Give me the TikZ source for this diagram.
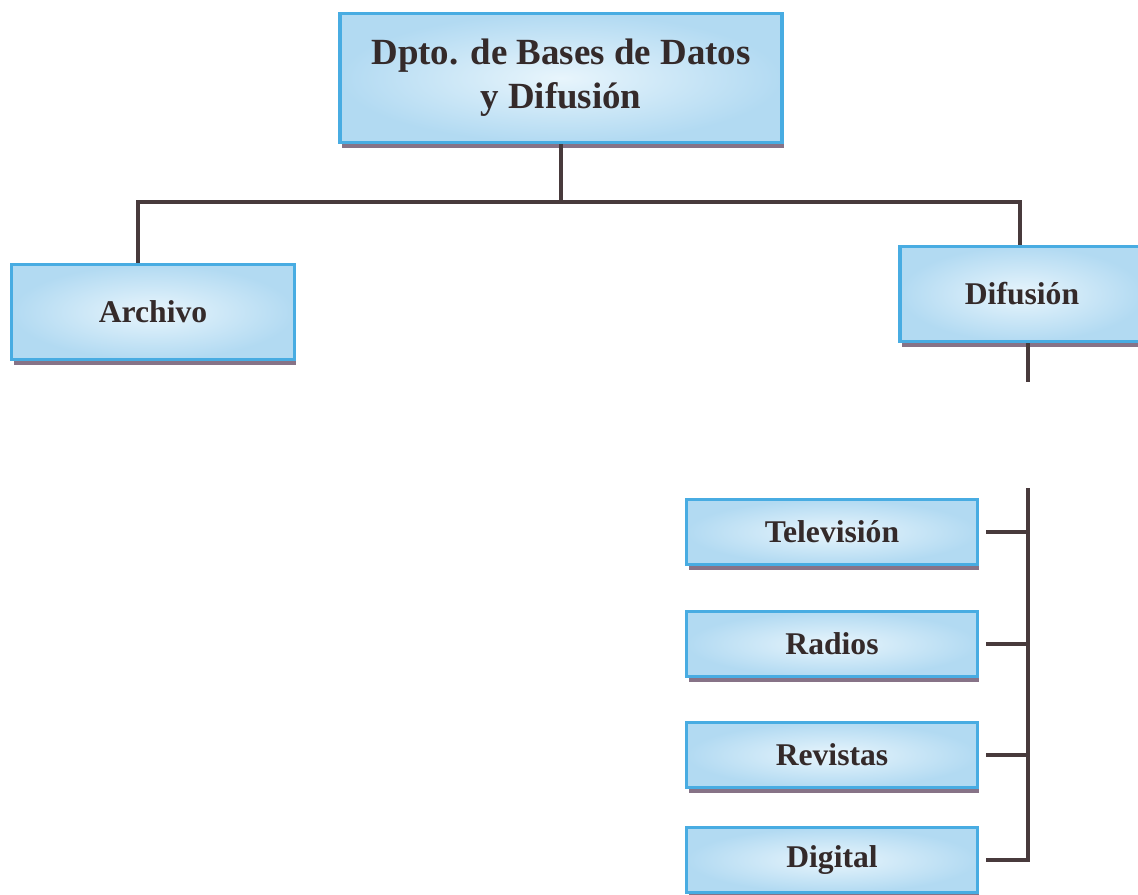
\documentclass[tikz,border=0pt]{standalone}
\usepackage{fontspec}
\setmainfont{Liberation Serif}
\usetikzlibrary{shadows}

\definecolor{boxedge}{RGB}{72,172,226}
\definecolor{boxin}{RGB}{232,245,252}
\definecolor{boxout}{RGB}{178,218,242}
\definecolor{boxshade}{RGB}{135,115,135}
\definecolor{ink}{RGB}{52,42,42}
\definecolor{wire}{RGB}{72,58,60}

\begin{document}
\begin{tikzpicture}[x=0.02cm,y=-0.02cm,
  unit/.style={draw=boxedge,line width=1.8pt,inner color=boxin,outer color=boxout,
    drop shadow={shadow xshift=0.4mm,shadow yshift=-1.1mm,fill=boxshade,opacity=1},
    text=ink,font=\fontsize{18}{21}\selectfont\bfseries,align=center},
  wide/.style={unit,minimum width=5.66cm,minimum height=1.9cm},
  medium/.style={unit,minimum width=5.82cm,minimum height=1.3cm},
  line/.style={draw=wire,line width=1.8pt},
  stub/.style={line,shorten <=1.4mm}]
  \useasboundingbox (0,0) rectangle (1138,894);

  \node[unit,minimum width=8.84cm,minimum height=2.58cm,
    font=\fontsize{21}{25}\selectfont\bfseries] (dept) at (561,78)
    {Dpto. de Bases de Datos\\y Difusión};
  \node[wide] (archivo) at (153,312) {Archivo};
  \node[wide,minimum width=4.88cm] (difusion) at (1022,294) {Difusión};

  \node[medium] (tv) at (832,532) {Televisión};
  \node[medium] (radios) at (832,644) {Radios};
  \node[medium] (revistas) at (832,755) {Revistas};
  \node[medium] (digital) at (832,860) {Digital};

  \coordinate (busL) at (138,202);
  \coordinate (busR) at (1020,202);
  \coordinate (difEnd) at (1028,382);
  \coordinate (medTop) at (1028,488);

  \draw[line] (dept.south) -- (dept.south |- busL);
  \draw[line] (archivo.north -| busL) -- (busL) -- (busR) -- (difusion.north -| busR);
  \draw[line] (difusion.south -| difEnd) -- (difEnd);

  \draw[stub] (digital.east) -| (medTop);
  \draw[stub] (tv.east) -- (tv.east -| medTop);
  \draw[stub] (radios.east) -- (radios.east -| medTop);
  \draw[stub] (revistas.east) -- (revistas.east -| medTop);
\end{tikzpicture}
\end{document}
